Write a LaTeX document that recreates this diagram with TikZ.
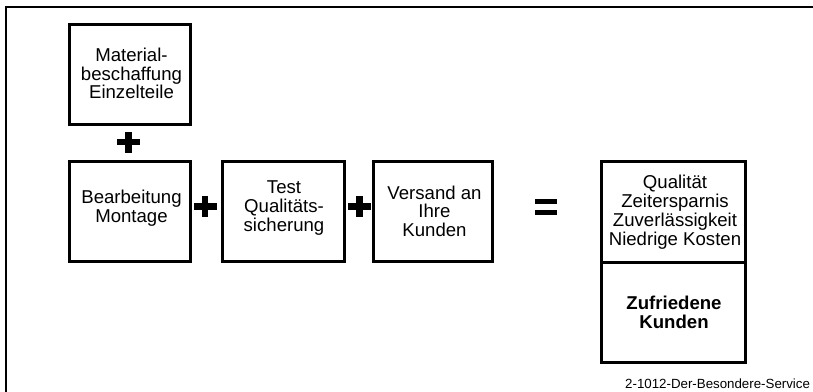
\documentclass[tikz,border=0pt]{standalone}
\usepackage{fontspec}
\setmainfont{Liberation Sans}
\newcommand\boxfont{\fontsize{18.6pt}{18.8pt}\selectfont\lineskiplimit=-30pt\relax}
\newcommand\boxfontbold{\fontsize{18.6pt}{18.8pt}\selectfont\bfseries\lineskiplimit=-30pt\relax}
\newcommand\codefont{\fontsize{13.3pt}{14pt}\selectfont}
\begin{document}
\begin{tikzpicture}[x=1pt,y=-1pt,
  box/.style={draw=black, line width=3pt, inner sep=0pt},
  txt/.style={align=center, inner sep=0pt, text depth=0pt, font=\boxfont},
  two/.style={text height=32.1pt},
  three/.style={text height=50.9pt},
  four/.style={text height=69.7pt},
  plussign/.pic={
    \fill[black] (-11.5,-3.25) rectangle (11.5,3.25);
    \fill[black] (-3.25,-10.5) rectangle (3.25,10.5);
  }]
\useasboundingbox (0,0) rectangle (813,391);
\fill[white] (0,0) rectangle (813,391);
% outer frame (top and left edges)
\draw[line width=2pt, line join=miter] (6,392) -- (6,6.8) -- (814,6.8);
% boxes
\node[box, minimum width=121pt, minimum height=100.3pt] (matbox) at (130,74.15) {};
\node[box, minimum width=121pt, minimum height=100pt] (beabox) at (130,211.5) {};
\node[box, minimum width=122.4pt, minimum height=100pt] (testbox) at (283.5,211.5) {};
\node[box, minimum width=118.7pt, minimum height=100pt] (versbox) at (433.15,211.5) {};
\node[box, minimum width=144.2pt, minimum height=101.3pt] (qbox) at (673.6,211.65) {};
\node[box, minimum width=144.2pt, minimum height=99.9pt] (zbox) at (673.6,312.25) {};
% texts
\node[txt,three] (mattxt) at (131.5,73.5) {Material-\\beschaffung\\Einzelteile};
\node[txt,two] (beatxt) at (131.5,206) {Bearbeitung\\Montage};
\node[txt,three] (testtxt) at (284,206) {Test\\Qualitäts-\\sicherung};
\node[txt,three] (verstxt) at (434.5,211.3) {Versand an\\Ihre\\Kunden};
\node[txt,four] (qtxt) at (675,210.5) {Qualität\\Zeitersparnis\\Zuverlässigkeit\\Niedrige Kosten};
\node[txt,two,font=\boxfontbold] (ztxt) at (674,312) {Zufriedene\\Kunden};
% operators
\pic at (128.3,142) {plussign};
\pic at (205,206.3) {plussign};
\pic at (359.3,206.3) {plussign};
\fill[black] (535,199) rectangle (557,204);
\fill[black] (535,209.5) rectangle (557,214.5);
% footer
\node[anchor=base west, inner sep=0pt, font=\codefont] (code) at (625,388.3) {2-1012-Der-Besondere-Service};
\end{tikzpicture}
\end{document}
